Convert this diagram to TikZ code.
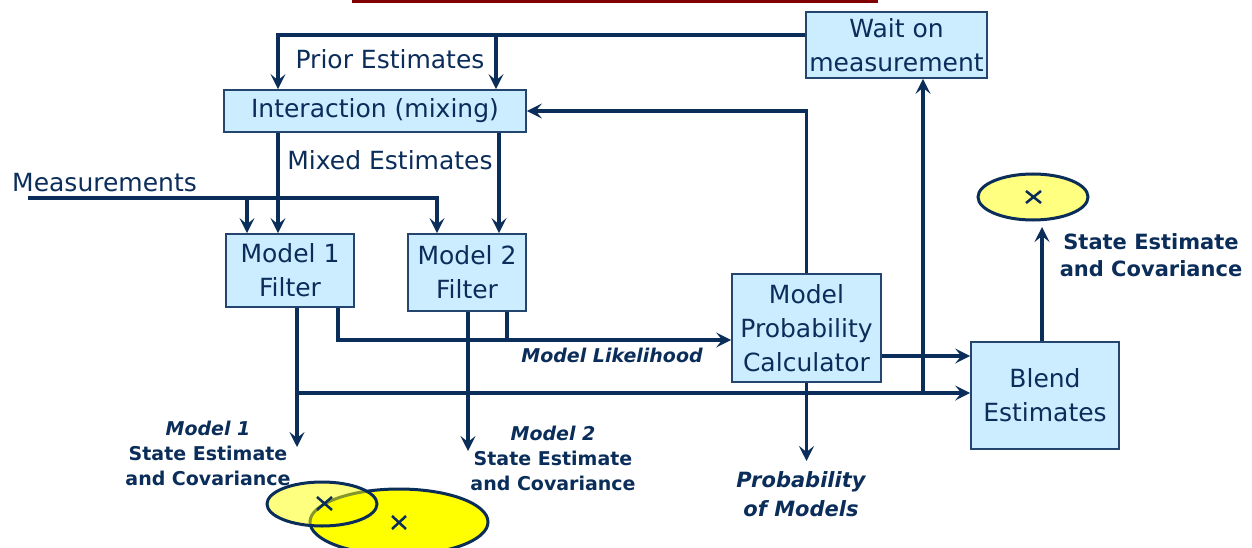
\documentclass[tikz,border=0pt]{standalone}
\usepackage{fontspec}
\setmainfont{DejaVu Sans}
\usetikzlibrary{arrows.meta}
\definecolor{navy}{HTML}{0B2D5A}
\definecolor{boxfill}{HTML}{CCECFF}
\definecolor{boxline}{HTML}{24456E}
\definecolor{titlered}{HTML}{800000}
\definecolor{ylw}{HTML}{FFFF00}

\tikzset{
  blk/.style={draw=boxline, line width=1.7pt, fill=boxfill, text=navy, inner sep=0pt,
    align=center, font=\fontsize{25}{34}\selectfont},
  conn/.style={draw=navy, line width=3.2pt},
  arr/.style={conn, -{Stealth[length=15pt,width=15pt,inset=6pt]}},
  lbl/.style={text=navy, inner sep=0pt, font=\fontsize{25}{30}\selectfont},
  blbl/.style={text=navy, inner sep=0pt, align=center, font=\fontsize{19}{25}\selectfont\bfseries},
  bigblbl/.style={text=navy, inner sep=0pt, align=center, font=\fontsize{21}{27}\selectfont\bfseries},
  covell/.style={draw=navy, line width=3pt},
  xmark/.style={draw=navy, line width=2.5pt},
}

\begin{document}
\begin{tikzpicture}[x=1pt, y=-1pt]
\useasboundingbox (0,0) rectangle (1252,548);

% title rule
\fill[titlered] (352,0) rectangle (878,3);

% processing blocks
\node[blk, minimum width=302pt, minimum height=42pt]  (inter) at (375,111)   {Interaction (mixing)};
\node[blk, minimum width=181pt, minimum height=66pt]  (wait)  at (896.5,45)  {Wait on\\measurement};
\node[blk, minimum width=128pt, minimum height=73pt]  (m1)    at (290,270.5) {Model 1\\Filter};
\node[blk, minimum width=118pt, minimum height=77pt]  (m2)    at (467,272.5) {Model 2\\Filter};
\node[blk, minimum width=149pt, minimum height=108pt] (mpc)   at (806.5,328) {Model\\Probability\\Calculator};
\node[blk, minimum width=148pt, minimum height=107pt] (blend) at (1045,395.5){Blend\\Estimates};

% junction and end points
\coordinate (pL) at (278,35);
\coordinate (pR) at (496,35);
\coordinate (mxL) at (278,0);
\coordinate (mxR) at (499,0);
\coordinate (ms) at (28,198);
\coordinate (msA) at (247,198);
\coordinate (msB) at (437,198);
\coordinate (lk1) at (338,340);
\coordinate (lk2) at (507,340);
\coordinate (se1) at (297,393);
\coordinate (se1tip) at (297,447);
\coordinate (se2) at (468,0);
\coordinate (se2tip) at (468,451);
\coordinate (wj) at (923,393);
\coordinate (pmtip) at (806.5,461);
\coordinate (outtip) at (1042,227);

% prior estimates
\draw[arr] (wait.west |- pL) -- (pL) -- (pL |- inter.north);
\draw[arr] (pR) -- (pR |- inter.north);

% mixed estimates
\draw[arr] (inter.south -| mxL) -- (m1.north -| mxL);
\draw[arr] (inter.south -| mxR) -- (m2.north -| mxR);

% measurements
\draw[arr] (ms) -- (msB) -- (msB |- m2.north);
\draw[arr] (msA) -- (msA |- m1.north);

% model likelihoods
\draw[arr] (m1.south -| lk1) -- (lk1) -- (mpc.west |- lk1);
\draw[conn] (m2.south -| lk2) -- (lk2);

% model state estimates
\draw[arr] (m1.south -| se1) -- (se1tip);
\draw[arr] (m2.south -| se2) -- (se2tip);
\draw[arr] (se1) -- (blend.west |- se1);
\draw[arr] (wj) -- (wait.south -| wj);

% model probabilities
\draw[arr] (mpc.east |- 0,356) -- (blend.west |- 0,356);
\draw[arr] (mpc.north) |- (inter.east);
\draw[arr] (mpc.south) -- (pmtip);

% blended output
\draw[arr] (blend.north -| outtip) -- (outtip);

% covariance ellipses
\filldraw[covell, fill=ylw] (399,522) ellipse (89 and 33);
\draw[xmark] (392,516) -- (406,529) (392,529) -- (406,516);
\filldraw[covell, fill=ylw, fill opacity=0.5] (322,504) ellipse (55 and 22);
\draw[xmark] (317,497) -- (332,510) (317,510) -- (332,497);
\filldraw[covell, fill=ylw!50] (1033,197) ellipse (55 and 23);
\draw[xmark] (1026,191) -- (1041,203) (1026,203) -- (1041,191);

% labels
\node[lbl] (prior) at (390,59) {Prior Estimates};
\node[lbl] (mixed) at (390,160) {Mixed Estimates};
\node[lbl, anchor=west] (meas) at (12,183) {Measurements};
\node[blbl] (lik) at (612,355) {\itshape Model Likelihood};
\node[blbl] (se1lbl) at (208,453) {\itshape Model 1\\State Estimate\\and Covariance};
\node[blbl] (se2lbl) at (553,458) {\itshape Model 2\\State Estimate\\and Covariance};
\node[bigblbl, font=\fontsize{21}{29}\selectfont\bfseries\itshape] (pmlbl) at (801,494) {Probability\\of Models};
\node[bigblbl] (outlbl) at (1151,255) {State Estimate\\and Covariance};
\end{tikzpicture}
\end{document}
